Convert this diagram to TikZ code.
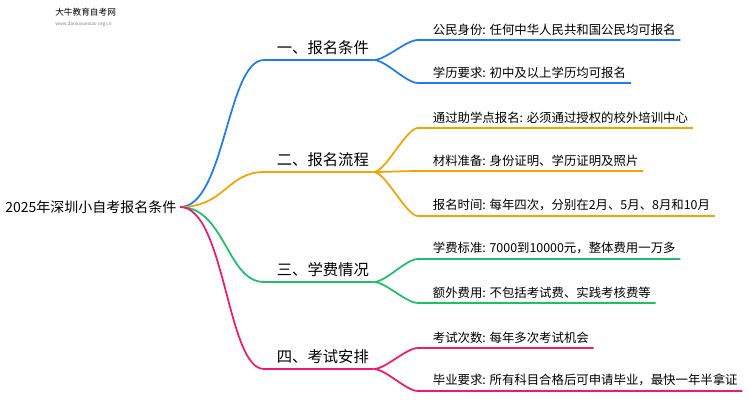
\documentclass[tikz,border=0pt]{standalone}
\usepackage{fontspec}
\setmainfont{Noto Sans CJK SC}
\usetikzlibrary{positioning}
\usetikzlibrary{calc}
\definecolor{cblue}{HTML}{1E7BF0}
\definecolor{corange}{HTML}{F5A300}
\definecolor{cgreen}{HTML}{1FBF6A}
\definecolor{cpink}{HTML}{F0196E}
\begin{document}
\begin{tikzpicture}[x=0.75pt,y=-0.75pt,
    line width=1.3pt,
    root/.style={inner sep=2pt,font=\fontsize{10.5}{12}\selectfont},
    branch/.style={inner sep=3pt,anchor=south west,font=\fontsize{11.5}{13}\selectfont},
    leaf/.style={inner sep=3pt,anchor=south west,font=\fontsize{9.3}{11}\selectfont}
  ]
  \useasboundingbox (0,0) rectangle (750,410);
  % watermark
  \node[font=\fontsize{6.5}{7}\selectfont,anchor=west] (logo) at (50,12) {大牛教育自考网};
  \node[font=\fontsize{3.5}{4}\selectfont,anchor=west,gray] (url) at (50,24) {www.daniuxuexiao.org.cn};

  \node[root,anchor=east] (R) at (180,207) {2025年深圳小自考报名条件};

  % branches
  \node[branch] (B1) at (272,60) {一、报名条件};
  \node[branch] (B2) at (272,172) {二、报名流程};
  \node[branch] (B3) at (272,282) {三、学费情况};
  \node[branch] (B4) at (272,369) {四、考试安排};

  % leaves
  \node[leaf] (L11) at (428,40) {公民身份: 任何中华人民共和国公民均可报名};
  \node[leaf] (L12) at (428,83) {学历要求: 初中及以上学历均可报名};
  \node[leaf] (L21) at (428,128) {通过助学点报名: 必须通过授权的校外培训中心};
  \node[leaf] (L22) at (428,171) {材料准备: 身份证明、学历证明及照片};
  \node[leaf] (L23) at (428,216) {报名时间: 每年四次，分别在2月、5月、8月和10月};
  \node[leaf] (L31) at (428,259) {学费标准: 7000到10000元，整体费用一万多};
  \node[leaf] (L32) at (428,303) {额外费用: 不包括考试费、实践考核费等};
  \node[leaf] (L41) at (428,348) {考试次数: 每年多次考试机会};
  \node[leaf] (L42) at (428,391) {毕业要求: 所有科目合格后可申请毕业，最快一年半拿证};

  \foreach \b/\c/\ls in {B1/cblue/{L11,L12},B2/corange/{L21,L22,L23},B3/cgreen/{L31,L32},B4/cpink/{L41,L42}}{
    \draw[\c] (R.east) .. controls ($(R.east)+(45,0)$) and ($(\b.south west)+(-45,0)$) .. ($(\b.south west)+(-8,0)$) -- (\b.south east);
    \foreach \l in \ls {
      \draw[\c] (\b.south east) .. controls ($(\b.south east)+(12,0)$) and ($(\l.south west)+(-22,0)$) .. ($(\l.south west)+(-10,0)$) -- (\l.south east);
    }
  }
\end{tikzpicture}
\end{document}
